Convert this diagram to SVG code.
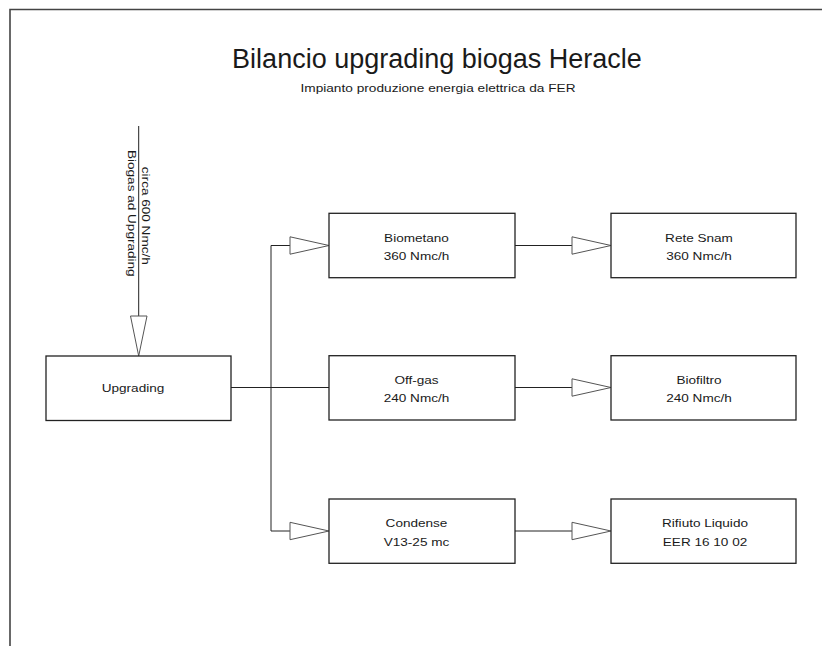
<svg xmlns="http://www.w3.org/2000/svg" width="822" height="646" viewBox="0 0 822 646">
<style>
text{font-family:"Liberation Sans",Arial,sans-serif;fill:#1a1a1a}
.lbl{font-size:11.6px;text-anchor:middle}
.box{fill:#fff;stroke:#222;stroke-width:1.3}
.ln{fill:none;stroke:#222;stroke-width:1}
.ah{fill:#fff;stroke:#555;stroke-width:1}
</style>
<rect width="822" height="646" fill="#fff"/>
<path d="M10 646V9.5H822" fill="none" stroke="#444" stroke-width="1.6"/>
<text x="437" y="68.3" font-size="27" text-anchor="middle">Bilancio upgrading biogas Heracle</text>
<text class="lbl" transform="translate(438,91.7) scale(1.18,1)">Impianto produzione energia elettrica da FER</text>

<g id="connectors">
  <line class="ln" x1="138.7" y1="126" x2="138.7" y2="316" stroke="#666"/>
  <polygon class="ah" points="130.5,316 147,316 138.7,356"/>
  <path class="ln" d="M231 387.5H329"/>
  <path class="ln" d="M271 245.5V531"/>
  <path class="ln" d="M271 245.5H290"/>
  <polygon class="ah" points="290,236.8 290,254.2 329,245.5"/>
  <path class="ln" d="M271 531H290"/>
  <polygon class="ah" points="290,522.3 290,539.7 329,531"/>
  <path class="ln" d="M515 245.5H572"/>
  <polygon class="ah" points="572,236.8 572,254.2 611,245.5"/>
  <path class="ln" d="M515 387.5H572"/>
  <polygon class="ah" points="572,378.8 572,396.2 611,387.5"/>
  <path class="ln" d="M515 531H572"/>
  <polygon class="ah" points="572,522.3 572,539.7 611,531"/>
  <text class="lbl" transform="translate(142,215.8) rotate(90) scale(1.17,1)">circa 600 Nmc/h</text>
  <text class="lbl" transform="translate(127.5,213.3) rotate(90) scale(1.17,1)">Biogas ad Upgrading</text>
</g>

<g id="upgrading">
  <rect class="box" x="46" y="356" width="185" height="64.5"/>
  <text class="lbl" transform="translate(133,392) scale(1.17,1)">Upgrading</text>
</g>
<g id="biometano">
  <rect class="box" x="329" y="213.3" width="186" height="64.4"/>
  <text class="lbl" transform="translate(416.5,241.7) scale(1.17,1)">Biometano</text>
  <text class="lbl" transform="translate(416.5,260) scale(1.17,1)">360 Nmc/h</text>
</g>
<g id="offgas">
  <rect class="box" x="329" y="355.7" width="186" height="64.3"/>
  <text class="lbl" transform="translate(416.5,384) scale(1.17,1)">Off-gas</text>
  <text class="lbl" transform="translate(416.5,402.3) scale(1.17,1)">240 Nmc/h</text>
</g>
<g id="condense">
  <rect class="box" x="329" y="499" width="186" height="64.3"/>
  <text class="lbl" transform="translate(416.5,527.4) scale(1.17,1)">Condense</text>
  <text class="lbl" transform="translate(416.5,545.7) scale(1.17,1)">V13-25 mc</text>
</g>
<g id="retesnam">
  <rect class="box" x="611" y="213.3" width="185" height="64.4"/>
  <text class="lbl" transform="translate(699,241.7) scale(1.17,1)">Rete Snam</text>
  <text class="lbl" transform="translate(699,260) scale(1.17,1)">360 Nmc/h</text>
</g>
<g id="biofiltro">
  <rect class="box" x="611" y="355.7" width="185" height="64.3"/>
  <text class="lbl" transform="translate(699,384) scale(1.17,1)">Biofiltro</text>
  <text class="lbl" transform="translate(699,402.3) scale(1.17,1)">240 Nmc/h</text>
</g>
<g id="rifiuto">
  <rect class="box" x="611" y="499" width="185" height="64.3"/>
  <text class="lbl" transform="translate(705,527.4) scale(1.17,1)">Rifiuto Liquido</text>
  <text class="lbl" transform="translate(705,545.7) scale(1.17,1)">EER 16 10 02</text>
</g>
</svg>
